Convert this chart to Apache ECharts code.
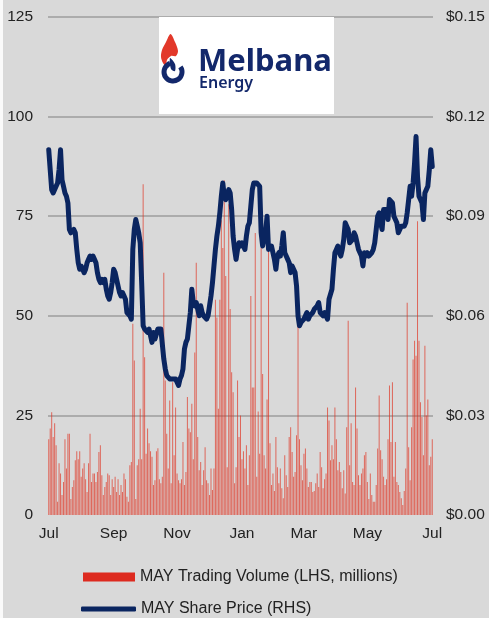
<!DOCTYPE html>
<html>
<head>
<meta charset="utf-8">
<script src="https://cdn.jsdelivr.net/npm/echarts@6/dist/echarts.min.js"></script>
<style>
  html, body { margin: 0; padding: 0; background: #d9d9d9; }
  #chart { width: 489px; height: 618px; }
</style>
</head>
<body>
<div id="chart"></div>
<script>
// trading days, Jul to Jun (weekdays)
var days = [];
for (var d = new Date(Date.UTC(2022, 6, 1)); d <= new Date(Date.UTC(2023, 5, 30)); d.setUTCDate(d.getUTCDate() + 1)) {
  var wd = d.getUTCDay();
  if (wd !== 0 && wd !== 6) days.push(d.toISOString().slice(0, 10));
}

// x labels (index of first trading day shown)
var monthLabels = ['Jul', 'Sep', 'Nov', 'Jan', 'Mar', 'May', 'Jul'];
var monthIndex = [0, 44, 87, 131, 173, 216, 260];

var leftTicks = [0, 25, 50, 75, 100, 125];
var rightTicks = [0, 0.03, 0.06, 0.09, 0.12, 0.15];

// trading volume, millions
var volJulSep = [19, 21.7, 25.8, 19.6, 23, 17.5, 3.3, 13, 10.4, 5, 8.3, 19, 11.7, 20.4, 20.4, 4, 7, 8.75, 13.75, 16,
  14, 16, 9.6, 11.7, 13, 9, 5.8, 13, 20.4, 8.3, 10.4, 10.4, 8.3, 10.8, 15.8, 17.5, 10, 5, 7, 8.3,
  10.4, 10, 5, 9, 7, 9.6, 5.8, 9, 5, 7.5, 5.8, 10.4, 9, 4.6, 3.3, 12.5, 13.3, 48, 38.75, 4,
  12.5, 14, 26.7, 14, 83];
var volOctDec = [39.6, 15.4, 21.7, 18, 16, 14.6, 7.5, 8.75, 16, 16.75, 9, 8, 9.6, 60.8, 33.75, 20.4, 11.7, 28.75, 8, 33.3,
  15, 27, 10.4, 8.75, 8, 9, 18.3, 7.5, 10.8, 29.6, 21.7, 20.8, 27.9, 14, 40.8, 63.3, 19.6, 11.25, 13.3, 7.5,
  11.25, 17, 8.75, 8, 5, 11.7, 6.25, 11.7, 54, 49.6, 26.7, 54, 74, 67, 84, 60, 12, 78, 51.7, 35.8,
  30.8, 8, 12, 33.75, 19.6, 25];
var volJanMar = [14, 16, 11.7, 17.5, 7.5, 15, 55, 32, 32, 70.8, 9.6, 26, 15.4, 67, 35.4, 15, 11.7, 29, 67, 18,
  7.5, 10.4, 6, 19.6, 12, 8, 11.7, 6.7, 4.2, 15, 10, 7, 19.6, 22, 15.8, 9.6, 10.8, 20, 47.5, 19,
  12.5, 8.75, 15.4, 16.7, 11.7, 7, 8.3, 8.3, 5.8, 6, 8, 10.4, 7, 15.8, 12, 6.7, 9, 10.4, 27, 23.75,
  13.75, 17.5, 14, 27, 19, 11.25];
var volAprJun = [13.3, 10.8, 6.7, 11.25, 5.4, 22, 48.75, 12.5, 23, 8.3, 7.5, 32, 21.7, 10, 7.5, 10.4, 11.7, 15, 15.8, 8.3,
  4, 10.4, 5, 3.3, 3.3, 7.5, 16.7, 30, 16.25, 14, 9.6, 7.5, 9, 19, 32.5, 18.3, 33.3, 9.6, 18.3, 8.3,
  7.5, 5.8, 4.2, 2.5, 6, 11.7, 53.3, 17, 8.75, 22, 39, 43.75, 40, 73.75, 43.75, 28.3, 24.6, 15, 42.5, 25,
  29, 12.5, 14.6, 19];

// share price, $
var priceH1 = [0.110, 0.104, 0.098, 0.097, 0.097, 0.099, 0.100, 0.104, 0.110, 0.101,
  0.099, 0.097, 0.096, 0.094, 0.086, 0.085, 0.085, 0.086, 0.085, 0.080,
  0.076, 0.074, 0.075, 0.075, 0.073, 0.074, 0.076, 0.077, 0.078, 0.077,
  0.078, 0.077, 0.076, 0.073, 0.071, 0.070, 0.071, 0.070, 0.071, 0.068,
  0.066, 0.065, 0.067, 0.070, 0.074, 0.073, 0.071, 0.069, 0.067, 0.066,
  0.067, 0.066, 0.065, 0.061, 0.061, 0.060, 0.059, 0.080, 0.086, 0.089,
  0.087, 0.085, 0.082, 0.070, 0.057, 0.056, 0.056, 0.055, 0.056, 0.054,
  0.052, 0.055, 0.053, 0.053, 0.056, 0.056, 0.056, 0.056, 0.047, 0.044,
  0.042, 0.042, 0.041, 0.041, 0.041, 0.041, 0.041, 0.040, 0.039, 0.041,
  0.042, 0.044, 0.050, 0.052, 0.053, 0.057, 0.061, 0.068, 0.064, 0.063,
  0.064, 0.062, 0.060, 0.063, 0.061, 0.060, 0.060, 0.059, 0.060, 0.063,
  0.066, 0.070, 0.075, 0.080, 0.084, 0.087, 0.091, 0.096, 0.100, 0.096,
  0.095, 0.095, 0.098, 0.097, 0.092, 0.084, 0.080, 0.077, 0.080, 0.082];
var priceH2 = [0.081, 0.082, 0.082, 0.080, 0.084, 0.087, 0.088, 0.093, 0.098, 0.100,
  0.100, 0.100, 0.100, 0.099, 0.085, 0.081, 0.081, 0.085, 0.090, 0.080,
  0.080, 0.081, 0.079, 0.077, 0.074, 0.078, 0.079, 0.078, 0.081, 0.085,
  0.079, 0.078, 0.077, 0.076, 0.073, 0.075, 0.074, 0.073, 0.069, 0.060,
  0.057, 0.058, 0.058, 0.059, 0.060, 0.061, 0.059, 0.060, 0.060, 0.061,
  0.062, 0.062, 0.063, 0.064, 0.061, 0.061, 0.060, 0.061, 0.060, 0.059,
  0.065, 0.065, 0.068, 0.074, 0.079, 0.080, 0.081, 0.079, 0.078, 0.080,
  0.083, 0.088, 0.087, 0.086, 0.082, 0.082, 0.083, 0.085, 0.084, 0.084,
  0.080, 0.079, 0.078, 0.075, 0.079, 0.078, 0.079, 0.078, 0.078, 0.079,
  0.080, 0.082, 0.086, 0.090, 0.091, 0.088, 0.086, 0.092, 0.092, 0.092,
  0.089, 0.095, 0.095, 0.094, 0.090, 0.089, 0.088, 0.085, 0.086, 0.087,
  0.087, 0.087, 0.088, 0.091, 0.095, 0.099, 0.096, 0.100, 0.106, 0.114,
  0.102, 0.096, 0.095, 0.094, 0.089, 0.097, 0.098, 0.099, 0.104, 0.110, 0.105];

var volume = volJulSep.concat(volOctDec, volJanMar, volAprJun);
var price = priceH1.concat(priceH2);

var volName = 'MAY Trading Volume (LHS, millions)';
var priceName = 'MAY Share Price (RHS)';

var navy = '#0a2560';
var logoNavy = '#13286b';
var txt = '#222';
var font = 'Liberation Sans, Arial, sans-serif';

var myChart = echarts.init(document.getElementById('chart'));

var option = {
  backgroundColor: '#d9d9d9',
  animation: false,
  textStyle: { fontFamily: font },
  grid: { left: 48, right: 56, top: 17, bottom: 103 },
  legend: [
    {
      data: [{ name: volName, icon: 'rect', itemStyle: { color: '#dd2a1f', opacity: 1 } }],
      left: 83, top: 569, padding: 0,
      itemWidth: 52, itemHeight: 9,
      selectedMode: false,
      textStyle: { color: txt, fontSize: 16, fontFamily: font }
    },
    {
      data: [{ name: priceName, icon: 'roundRect' }],
      left: 81, top: 601, padding: 0,
      itemWidth: 55, itemHeight: 5,
      selectedMode: false,
      textStyle: { color: txt, fontSize: 16, fontFamily: font }
    }
  ],
  xAxis: {
    type: 'category',
    data: days,
    axisLine: { show: false },
    axisTick: { show: false },
    axisLabel: {
      color: txt, fontSize: 15.5, margin: 11,
      interval: function (i) { return monthIndex.indexOf(i) >= 0; },
      formatter: function (v, i) { return monthLabels[monthIndex.indexOf(i)]; }
    }
  },
  yAxis: [
    {
      type: 'value',
      min: leftTicks[0], max: leftTicks[leftTicks.length - 1], interval: 25,
      axisLine: { show: false },
      axisTick: { show: false },
      axisLabel: { color: txt, fontSize: 15.5, margin: 15 },
      splitLine: { showMinLine: false, lineStyle: { color: '#acacac', width: 2 } }
    },
    {
      type: 'value',
      min: rightTicks[0], max: rightTicks[rightTicks.length - 1], interval: 0.03,
      axisLine: { show: false },
      axisTick: { show: false },
      splitLine: { show: false },
      axisLabel: {
        color: txt, fontSize: 15.5, margin: 13,
        formatter: function (v) { return '$' + v.toFixed(2); }
      }
    }
  ],
  series: [
    {
      name: volName,
      type: 'bar',
      data: volume,
      barWidth: 1,
      itemStyle: { color: '#e0301f', opacity: 0.68 }
    },
    {
      name: priceName,
      type: 'line',
      yAxisIndex: 1,
      data: price,
      symbol: 'none',
      color: navy,
      itemStyle: { color: navy },
      lineStyle: { color: navy, width: 5, cap: 'round', join: 'round' }
    }
  ],
  graphic: [
    { type: 'rect', shape: { x: 0, y: 0, width: 3, height: 618 }, style: { fill: '#fafafa' } },
    // logo
    { type: 'rect', shape: { x: 159, y: 17, width: 175, height: 97 }, style: { fill: '#fff' }, z: 10 },
    {
      type: 'polygon', z: 11,
      shape: {
        points: [[170.5, 34], [166, 42], [162, 50], [161, 57], [163, 63], [166, 66], [167, 60], [171, 56], [176, 56], [178, 51], [175, 42]],
        smooth: 0.3
      },
      style: { fill: '#e2382a' }
    },
    {
      type: 'arc', z: 11,
      shape: { cx: 173, cy: 72, r: 9, startAngle: -0.6, endAngle: -1.9, clockwise: true },
      style: { stroke: logoNavy, lineWidth: 5, fill: null }
    },
    {
      type: 'polygon', z: 11,
      shape: { points: [[170, 58], [175, 64], [175, 71], [171, 69]], smooth: 0.3 },
      style: { fill: logoNavy }
    },
    {
      type: 'text', z: 11, x: 198, y: 47,
      style: { text: 'Melbana', fill: logoNavy, font: 'bold 31px "Noto Sans", sans-serif' }
    },
    {
      type: 'text', z: 11, x: 199, y: 75,
      style: { text: 'Energy', fill: logoNavy, font: '600 16px "Noto Sans", sans-serif' }
    }
  ]
};

myChart.setOption(option);
window.addEventListener('resize', function () {
  myChart.resize();
});
</script>
</body>
</html>
